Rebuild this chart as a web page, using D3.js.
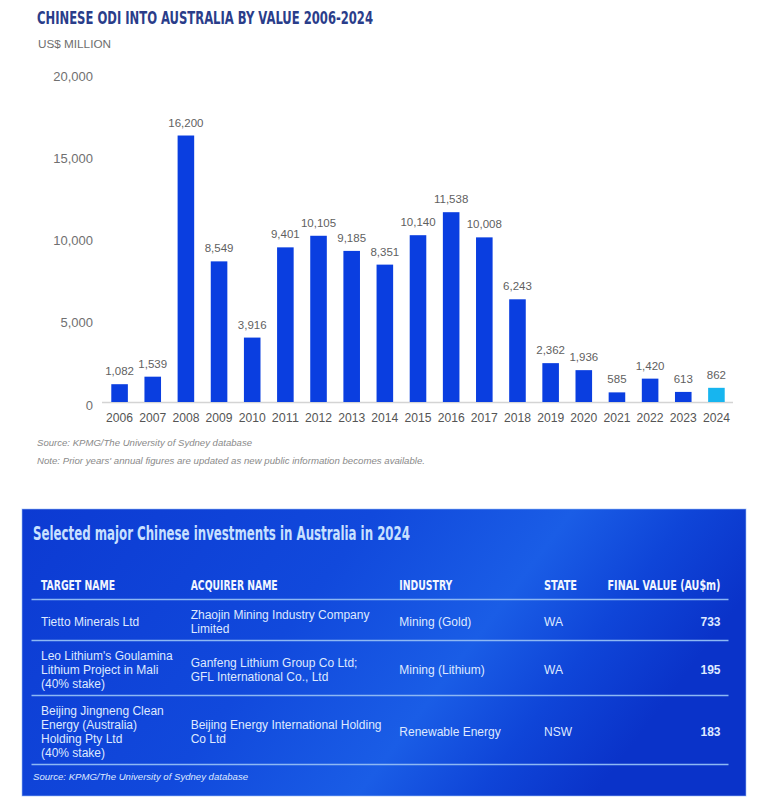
<!DOCTYPE html>
<html>
<head>
<meta charset="utf-8">
<script src="https://cdn.jsdelivr.net/npm/d3@7/dist/d3.min.js"></script>
<style>
  html, body { margin: 0; padding: 0; background: #fff; }
  svg { display: block; }
</style>
</head>
<body>
<svg id="chart" width="767" height="810"></svg>
<script>
// ---------- DATA ----------
const years = ["2006","2007","2008","2009","2010","2011","2012","2013","2014","2015","2016","2017","2018","2019","2020","2021","2022","2023","2024"];
const values = [1082,1539,16200,8549,3916,9401,10105,9185,8351,10140,11538,10008,6243,2362,1936,585,1420,613,862];
const yTicks = [0,5000,10000,15000,20000];
const highlightYear = "2024";

const chartTitle = "CHINESE ODI INTO AUSTRALIA BY VALUE 2006-2024";
const unitLabel = "US$ MILLION";
const sourceNote = "Source: KPMG/The University of Sydney database";
const yearNote = "Note: Prior years' annual figures are updated as new public information becomes available.";

const tableTitle = "Selected major Chinese investments in Australia in 2024";
const tableHeaders = ["TARGET NAME","ACQUIRER NAME","INDUSTRY","STATE","FINAL VALUE (AU$m)"];
const targetNames = [
  ["Tietto Minerals Ltd"],
  ["Leo Lithium's Goulamina","Lithium Project in Mali","(40% stake)"],
  ["Beijing Jingneng Clean","Energy (Australia)","Holding Pty Ltd","(40% stake)"]
];
const acquirerNames = [
  ["Zhaojin Mining Industry Company","Limited"],
  ["Ganfeng Lithium Group Co Ltd;","GFL International Co., Ltd"],
  ["Beijing Energy International Holding","Co Ltd"]
];
const industries = [["Mining (Gold)"],["Mining (Lithium)"],["Renewable Energy"]];
const states = [["WA"],["WA"],["NSW"]];
const finalValues = [733,195,183];
const tableSource = "Source: KPMG/The University of Sydney database";

// ---------- STYLE ----------
const condensed = "'DejaVu Sans Condensed','DejaVu Sans',sans-serif";
const sans = "'Liberation Sans',Arial,'Noto Sans',sans-serif";

const svg = d3.select("#chart");
svg.append("rect").attr("width",767).attr("height",810).attr("fill","#fff");

// ---------- CHART ----------
svg.append("text")
  .attr("x",37).attr("y",24)
  .attr("font-family",condensed).attr("font-weight","bold").attr("font-size",18)
  .attr("fill","#2a3d8a")
  .attr("textLength",336).attr("lengthAdjust","spacingAndGlyphs")
  .text(chartTitle);

svg.append("text")
  .attr("x",38).attr("y",48)
  .attr("font-family",sans).attr("font-size",11)
  .attr("fill","#6e6e6e")
  .attr("textLength",73).attr("lengthAdjust","spacingAndGlyphs")
  .text(unitLabel);

const x = d3.scaleBand().domain(years).range([103,733]).paddingInner(0.5).paddingOuter(0.25);
const y = d3.scaleLinear().domain([0,20000]).range([402,73]);

// y axis labels (no line)
const yAxis = d3.axisLeft(y).tickValues(yTicks).tickFormat(d3.format(",")).tickSize(0).tickPadding(0);
const gy = svg.append("g").attr("transform","translate(93,3)").call(yAxis);
gy.select(".domain").remove();
gy.selectAll("text").attr("font-family",sans).attr("font-size",13).attr("fill","#707070");

// baseline
svg.append("line")
  .attr("x1",102).attr("x2",733).attr("y1",y(0)+0.5).attr("y2",y(0)+0.5)
  .attr("stroke","#d4d4d4").attr("stroke-width",1.5);

// bars
svg.append("g").selectAll("rect").data(years).join("rect")
  .attr("x",d=>x(d))
  .attr("y",(d,i)=>y(values[i]))
  .attr("width",x.bandwidth())
  .attr("height",(d,i)=>y(0)-y(values[i]))
  .attr("fill",d=>d===highlightYear ? "#17b5ef" : "#0a3ee0");

// value labels
svg.append("g").selectAll("text").data(years).join("text")
  .attr("x",d=>x(d)+x.bandwidth()/2)
  .attr("y",(d,i)=>y(values[i])-9)
  .attr("text-anchor","middle")
  .attr("font-family",sans).attr("font-size",11.5).attr("fill","#5f5f5f")
  .text((d,i)=>d3.format(",")(values[i]));

// x axis labels
const xAxis = d3.axisBottom(x).tickSize(0).tickPadding(0);
const gx = svg.append("g").attr("transform","translate(0,413)").call(xAxis);
gx.select(".domain").remove();
gx.selectAll("text").attr("font-family",sans).attr("font-size",12).attr("fill","#555")
  .attr("textLength",27).attr("lengthAdjust","spacingAndGlyphs");

svg.append("text").attr("x",37).attr("y",446)
  .attr("font-family",sans).attr("font-style","italic").attr("font-size",9.5).attr("fill","#8a8a8a")
  .attr("textLength",215).attr("lengthAdjust","spacingAndGlyphs").text(sourceNote);
svg.append("text").attr("x",37).attr("y",464)
  .attr("font-family",sans).attr("font-style","italic").attr("font-size",9.5).attr("fill","#8a8a8a")
  .attr("textLength",388).attr("lengthAdjust","spacingAndGlyphs").text(yearNote);

// ---------- TABLE ----------
const defs = svg.append("defs");
const grad = defs.append("linearGradient").attr("id","boxGrad")
  .attr("x1","0").attr("y1","0").attr("x2","1").attr("y2","0.3");
[["0","#0c3ad2"],["0.45","#1149dc"],["0.7","#1a5de6"],["0.85","#0f45d8"],["1","#0a33c9"]]
  .forEach(s=>grad.append("stop").attr("offset",s[0]).attr("stop-color",s[1]));

svg.append("rect").attr("x",22).attr("y",509).attr("width",724).attr("height",287)
  .attr("fill","url(#boxGrad)").attr("stroke","#9cc0f5").attr("stroke-width",1).attr("stroke-opacity",0.6);

svg.append("text").attr("x",33).attr("y",540)
  .attr("font-family",condensed).attr("font-weight","bold").attr("font-size",19)
  .attr("fill","#c8e0ff")
  .attr("textLength",377).attr("lengthAdjust","spacingAndGlyphs")
  .text(tableTitle);

const colX = [41,190.7,399.3,544,720.5];
const headerW = [74,87,53,33,113];
svg.append("g").selectAll("text").data(tableHeaders).join("text")
  .attr("x",(d,i)=>i===4 ? colX[4]-headerW[4] : colX[i])
  .attr("y",590)
  .attr("font-family",condensed).attr("font-weight","bold").attr("font-size",13.5)
  .attr("fill","#f2f6ff")
  .attr("textLength",(d,i)=>headerW[i]).attr("lengthAdjust","spacingAndGlyphs")
  .text(d=>d);

const lineColor = "#8db8f4";
const lineH = 14;
const rows = finalValues.map((v,i)=>({
  cells:[targetNames[i],acquirerNames[i],industries[i],states[i],[String(v)]]
}));
let rowTop = 599.5;
const rules = [rowTop];
rows.forEach(r=>{
  const n = d3.max(r.cells,c=>c.length);
  r.top = rowTop; r.h = n*lineH+13; r.center = rowTop + r.h/2 + 2;
  rowTop += r.h; rules.push(rowTop);
});

svg.append("g").selectAll("line").data(rules).join("line")
  .attr("x1",31.5).attr("x2",728.5).attr("y1",d=>d).attr("y2",d=>d)
  .attr("stroke",lineColor).attr("stroke-width",1.5);

const cellG = svg.append("g");
rows.forEach(r=>{
  r.cells.forEach((cell,ci)=>{
    cell.forEach((txt,li)=>{
      cellG.append("text")
        .attr("x",colX[ci])
        .attr("y",r.center + (li-(cell.length-1)/2)*lineH)
        .attr("dy","0.35em")
        .attr("text-anchor",ci===4?"end":"start")
        .attr("font-family",sans)
        .attr("font-weight",ci===4?"bold":"normal")
        .attr("font-size",12)
        .attr("fill","#dfe9ff")
        .text(txt);
    });
  });
});

svg.append("text").attr("x",33).attr("y",780)
  .attr("font-family",sans).attr("font-style","italic").attr("font-size",9.5)
  .attr("fill","#dfe9ff")
  .attr("textLength",215).attr("lengthAdjust","spacingAndGlyphs")
  .text(tableSource);
</script>
</body>
</html>
